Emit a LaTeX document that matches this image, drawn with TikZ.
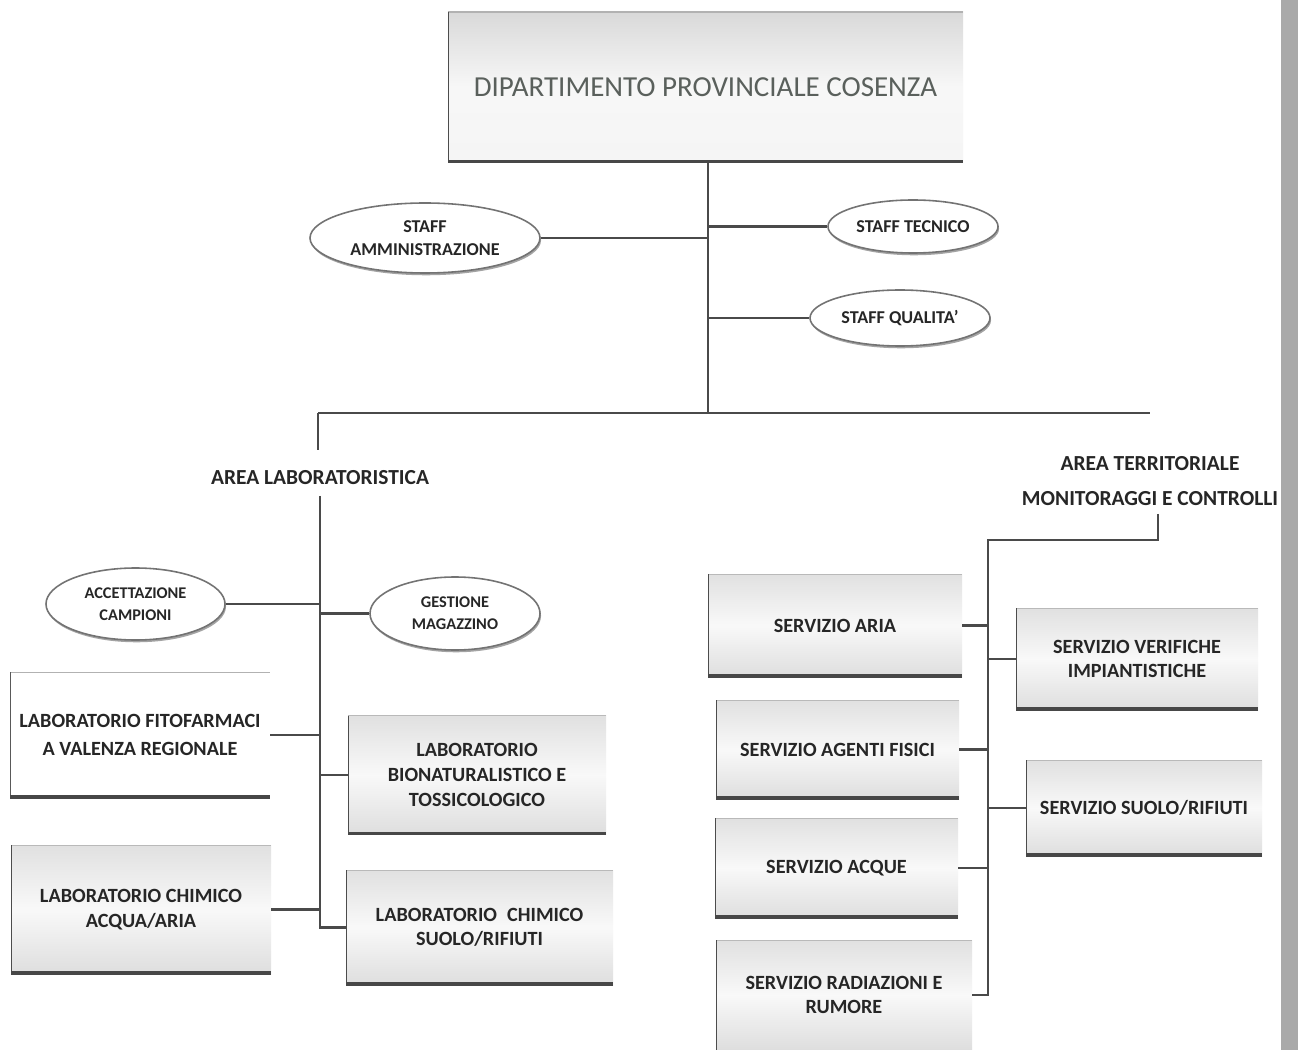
\documentclass[tikz,border=0pt]{standalone}
\usepackage{fontspec}
\setmainfont{Carlito}
\usetikzlibrary{shapes.geometric,shadows}
\newlength\pxu
\setlength\pxu{0.02cm}
\definecolor{ink}{HTML}{262626}
\definecolor{titleink}{HTML}{5A605C}
\definecolor{wire}{HTML}{4A4A4A}
\definecolor{band}{HTML}{A9A9A9}

\tikzset{
  conn/.style={draw=wire, line width=1.4pt},
  % light grey panel with a thin top edge, a dark left edge and a heavy base
  panel/.style={rectangle, inner sep=0pt, align=center, text=ink,
    font=\bfseries\fontsize{11.5}{14}\selectfont,
    top color=gray!24, bottom color=gray!26, middle color=gray!5,
    path picture={
      \draw[gray!55, line width=0.8pt] (path picture bounding box.north west) -- (path picture bounding box.north east);
      \draw[black!70, line width=1.2pt] (path picture bounding box.north west) -- (path picture bounding box.south west);
      \draw[black!72, line width=3.4pt] (path picture bounding box.south west) -- (path picture bounding box.south east);
    }},
  openpanel/.style={rectangle, inner sep=0pt, align=center, text=ink,
    font=\bfseries\fontsize{11.5}{14}\selectfont,
    top color=gray!24, bottom color=gray!26, middle color=gray!5,
    path picture={
      \draw[gray!55, line width=0.8pt] (path picture bounding box.north west) -- (path picture bounding box.north east);
      \draw[black!70, line width=1.2pt] (path picture bounding box.north west) -- (path picture bounding box.south west);
    }},
  plainpanel/.style={rectangle, inner sep=0pt, align=center, text=ink,
    font=\bfseries\fontsize{11.5}{15.8}\selectfont, fill=white,
    path picture={
      \draw[gray!60, line width=0.8pt] (path picture bounding box.north west) -- (path picture bounding box.north east);
      \draw[black!65, line width=1.0pt] (path picture bounding box.north west) -- (path picture bounding box.south west);
      \draw[black!72, line width=3.0pt] (path picture bounding box.south west) -- (path picture bounding box.south east);
    }},
  headpanel/.style={rectangle, inner sep=0pt, align=center, text=titleink,
    font=\fontsize{16.5}{19}\selectfont,
    top color=gray!30, bottom color=gray!8, middle color=gray!6,
    path picture={
      \draw[gray!60, line width=0.8pt] (path picture bounding box.north west) -- (path picture bounding box.north east);
      \draw[black!70, line width=1.3pt] (path picture bounding box.north west) -- (path picture bounding box.south west);
      \draw[black!72, line width=3.4pt] (path picture bounding box.south west) -- (path picture bounding box.south east);
    }},
  oval/.style={ellipse, draw=black!55, line width=0.9pt, fill=white, inner sep=0pt,
    align=center, text=ink, font=\bfseries\fontsize{9.3}{12.5}\selectfont,
    drop shadow={shadow xshift=0.6pt, shadow yshift=-1.3pt, fill=black!60, opacity=0.6}},
  staffoval/.style={oval, font=\bfseries\fontsize{10.3}{13.5}\selectfont},
  arealabel/.style={text=ink, align=center, inner sep=1pt, font=\bfseries\fontsize{12.2}{20.4}\selectfont},
}

\begin{document}
\begin{tikzpicture}[x=0.02cm, y=-0.02cm]
  \useasboundingbox (0,0) rectangle (1298,1050);
  \fill[white] (0,0) rectangle (1298,1050);
  % scanned page edge
  \fill[band] (1281,0) rectangle (1298,1050);

  % head of the chart
  \node[headpanel, minimum width=515\pxu, minimum height=151\pxu] (title) at (705.5,87.5)
    {DIPARTIMENTO PROVINCIALE COSENZA};

  % staff units
  \node[staffoval, minimum width=230\pxu, minimum height=70\pxu] (samm) at (425,238) {STAFF\\AMMINISTRAZIONE};
  \node[staffoval, minimum width=170\pxu, minimum height=53\pxu] (stec) at (913,226.5) {STAFF TECNICO};
  \node[staffoval, minimum width=180\pxu, minimum height=56\pxu] (squal) at (900,318) {STAFF QUALITA'};

  \coordinate (hub) at (708,413);
  \coordinate (hl) at (318,413);
  \coordinate (hr) at (1150,413);
  \coordinate (labdrop) at (318,450);

  \draw[conn] (title.south -| hub) -- (hub);
  \draw[conn] (samm.east) -- (samm.east -| hub);
  \draw[conn] (stec.west) -- (stec.west -| hub);
  \draw[conn] (squal.west) -- (squal.west -| hub);
  \draw[conn] (hl) -- (hr);
  \draw[conn] (hl) -- (labdrop);

  % laboratory area
  \node[arealabel] (arealab) at (320,478) {AREA LABORATORISTICA};
  \coordinate (lbtop) at (320,496);

  \node[oval, minimum width=179\pxu, minimum height=72\pxu] (acc) at (135.5,604) {ACCETTAZIONE\\CAMPIONI};
  \node[oval, minimum width=170\pxu, minimum height=73\pxu] (gest) at (455,613.5) {GESTIONE\\MAGAZZINO};

  \node[plainpanel, minimum width=260\pxu, minimum height=126\pxu] (fito) at (140,735)
    {LABORATORIO FITOFARMACI\\A VALENZA REGIONALE};
  \node[panel, minimum width=258\pxu, minimum height=119\pxu] (bion) at (477,775)
    {LABORATORIO\\BIONATURALISTICO E\\TOSSICOLOGICO};
  \node[panel, minimum width=260\pxu, minimum height=129\pxu] (chacq) at (141,909.5)
    {LABORATORIO CHIMICO\\ACQUA/ARIA};
  \node[panel, minimum width=267\pxu, minimum height=115\pxu] (chsuolo) at (479.5,927.5)
    {LABORATORIO\enspace CHIMICO\\SUOLO/RIFIUTI};

  \draw[conn] (lbtop) -- (lbtop |- chsuolo.west) -- (chsuolo.west);
  \draw[conn] (acc.east) -- (acc.east -| lbtop);
  \draw[conn] (gest.west) -- (gest.west -| lbtop);
  \draw[conn] (fito.east) -- (fito.east -| lbtop);
  \draw[conn] (bion.west) -- (bion.west -| lbtop);
  \draw[conn] (chacq.east) -- (chacq.east -| lbtop);

  % territorial area
  \node[arealabel] (areater) at (1150,481) {AREA TERRITORIALE\\MONITORAGGI E CONTROLLI};
  \coordinate (rtop) at (1158,514);
  \coordinate (relbow) at (1158,540);
  \coordinate (rbus) at (988,540);

  \node[panel, minimum width=254\pxu, minimum height=103\pxu] (aria) at (835,625.5) {SERVIZIO ARIA};
  \node[panel, minimum width=243\pxu, minimum height=99\pxu] (agenti) at (837.5,749.5) {SERVIZIO AGENTI FISICI};
  \node[panel, minimum width=243\pxu, minimum height=100\pxu] (acque) at (836.5,868) {SERVIZIO ACQUE};
  \node[openpanel, minimum width=256\pxu, minimum height=110\pxu] (rad) at (844,995)
    {SERVIZIO RADIAZIONI E\\RUMORE};
  \node[panel, minimum width=242\pxu, minimum height=102\pxu] (verif) at (1137,659)
    {SERVIZIO VERIFICHE\\IMPIANTISTICHE};
  \node[panel, minimum width=236\pxu, minimum height=96\pxu] (suolo) at (1144,808) {SERVIZIO SUOLO/RIFIUTI};

  \draw[conn] (rtop) -- (relbow) -- (rbus) -- (rbus |- rad.east) -- (rad.east);
  \draw[conn] (aria.east) -- (aria.east -| rbus);
  \draw[conn] (agenti.east) -- (agenti.east -| rbus);
  \draw[conn] (acque.east) -- (acque.east -| rbus);
  \draw[conn] (verif.west) -- (verif.west -| rbus);
  \draw[conn] (suolo.west) -- (suolo.west -| rbus);
\end{tikzpicture}
\end{document}
